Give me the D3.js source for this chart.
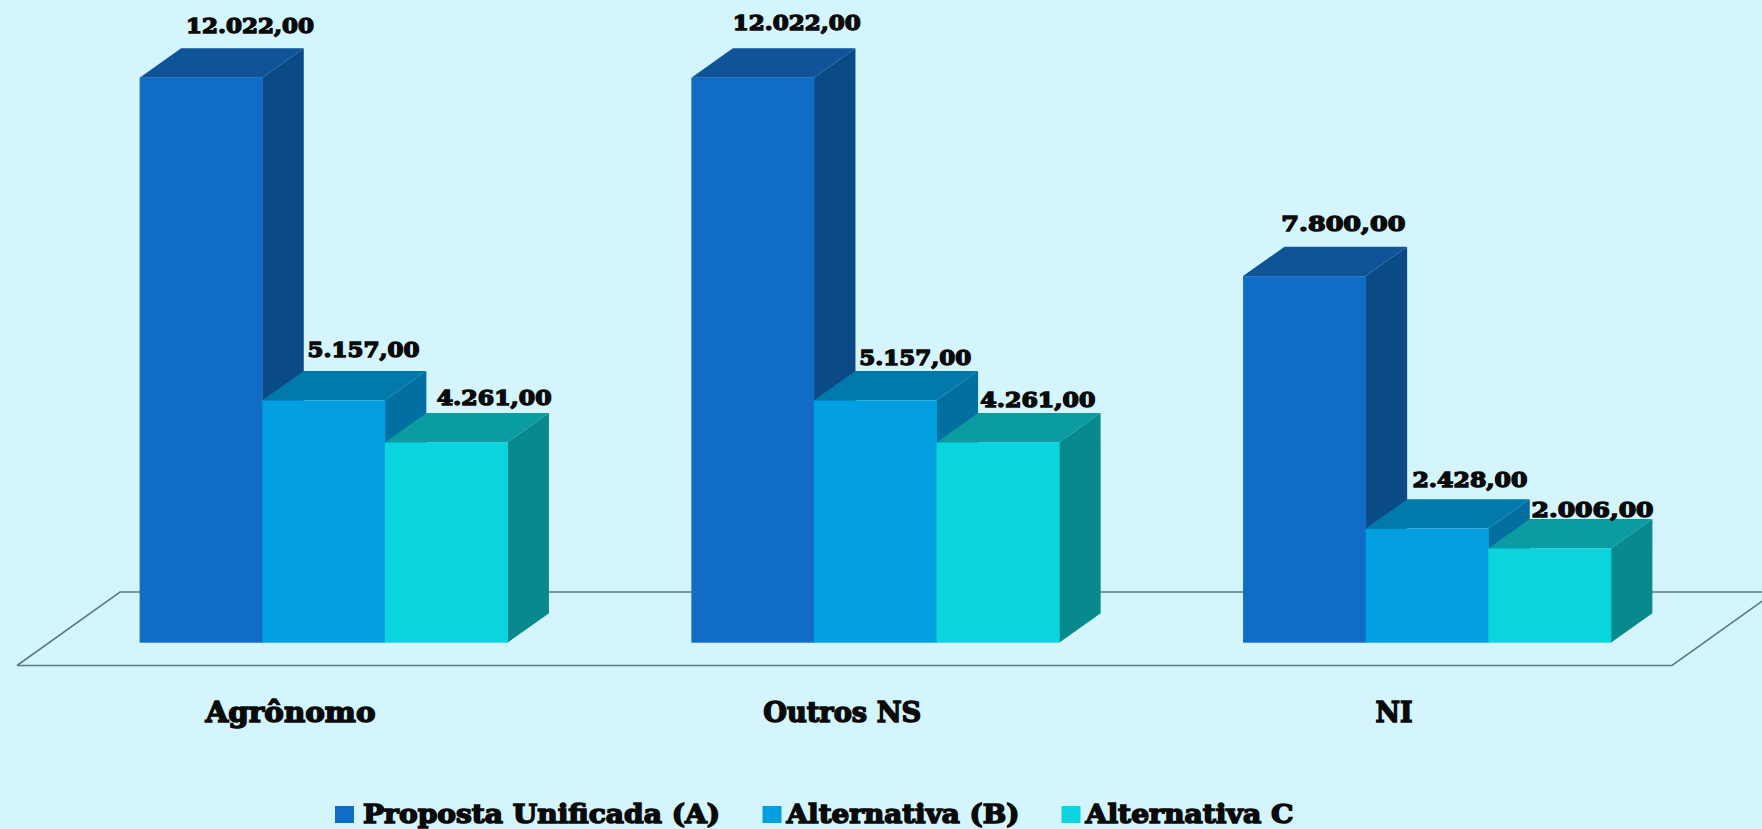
<!DOCTYPE html>
<html>
<head>
<meta charset="utf-8">
<title>Proposta Unificada</title>
<script src="https://cdn.jsdelivr.net/npm/d3@7"></script>
<style>
    html, body { margin: 0; padding: 0; background: #d3f5fb; overflow: hidden; }
    text { font-family: "DejaVu Serif", serif; font-weight: bold; fill: #0a0a0a; stroke: #0a0a0a; }
</style>
</head>
<body>
<div id="chart"></div>
<script>
// the data
const categories = ["Agrônomo", "Outros NS", "NI"];
const seriesNames = ["Proposta Unificada (A)", "Alternativa (B)", "Alternativa C"];
const propostaA = [12022, 12022, 7800];
const alternativaB = [5157, 5157, 2428];
const alternativaC = [4261, 4261, 2006];
const seriesValues = [propostaA, alternativaB, alternativaC];

// colours: front, top and side face of each series
const frontColours = ["#106cc6", "#019fdf", "#0ad5de"];
const topColours = ["#0f5399", "#0179aa", "#0a9ca0"];
const sideColours = ["#0a4a85", "#016f9f", "#07898e"];

// chart settings
const width = 1762;
const height = 829;
const baseline = 642.7;
const barTop = 77.7;
const depth = { x: 41.5, y: 29.4 };
const floorDepth = { x: 103, y: 73.5 };
const floorFrontY = 665.5;

const svg = d3.select("#chart").append("svg")
    .attr("width", width)
    .attr("height", height)
    .style("display", "block");

// scales
const x0 = d3.scaleBand(categories, [47.7, 1702.8])
    .paddingInner(1 / 3)
    .paddingOuter(1 / 6);
const x1 = d3.scaleBand(d3.range(seriesNames.length), [0, x0.bandwidth()]);
const y = d3.scaleLinear([0, 12022], [baseline, barTop]);

// floor of the 3d plot
const floorLeft = 17;
const floorRight = 1672;
svg.append("path")
    .attr("d", d3.line()([
        [floorLeft, floorFrontY],
        [floorRight, floorFrontY],
        [floorRight + floorDepth.x, floorFrontY - floorDepth.y],
        [floorLeft + floorDepth.x, floorFrontY - floorDepth.y],
        [floorLeft, floorFrontY]
    ]))
    .attr("fill", "none")
    .attr("stroke", "#5c7c84")
    .attr("stroke-width", 1.6);

// one flat record per bar, drawn from left to right
const bars = [];
categories.forEach((category, c) => {
    seriesValues.forEach((values, s) => {
        bars.push({ category, c, s, value: values[c] });
    });
});

const line = d3.line();
const barGroups = svg.append("g")
    .selectAll("g")
    .data(bars)
    .join("g");

// back faces first, so the next bar in the row covers them
barGroups.append("path")
    .attr("fill", d => sideColours[d.s])
    .attr("d", d => {
        const r = x0(d.category) + x1(d.s) + x1.bandwidth();
        return line([
            [r, y(d.value)],
            [r + depth.x, y(d.value) - depth.y],
            [r + depth.x, baseline - depth.y],
            [r, baseline]
        ]) + "Z";
    });
barGroups.append("path")
    .attr("fill", d => topColours[d.s])
    .attr("d", d => {
        const l = x0(d.category) + x1(d.s);
        const r = l + x1.bandwidth();
        return line([
            [l, y(d.value)],
            [l + depth.x, y(d.value) - depth.y],
            [r + depth.x, y(d.value) - depth.y],
            [r, y(d.value)]
        ]) + "Z";
    });
barGroups.append("rect")
    .attr("fill", d => frontColours[d.s])
    .attr("x", d => x0(d.category) + x1(d.s))
    .attr("y", d => y(d.value))
    .attr("width", x1.bandwidth() + 0.5)
    .attr("height", d => baseline - y(d.value));

// value labels were placed by hand in the original, so each has its own nudge
const labelShift = [
    [49, 15], [40, 14], [48, 8],
    [44, 18], [40, 6], [40, 6],
    [39, 16], [43, 12], [43, 2]
];
const labelWidths = [128, 112, 115, 128, 112, 115, 124, 115, 122];
const valueFormat = v => d3.format(",")(v).replace(",", ".") + ",00";

svg.append("g")
    .selectAll("text")
    .data(bars)
    .join("text")
    .attr("text-anchor", "middle")
    .attr("x", (d, i) => x0(d.category) + x1(d.s) + x1.bandwidth() / 2 + labelShift[i][0])
    .attr("y", (d, i) => y(d.value) - depth.y - labelShift[i][1])
    .attr("font-size", 21)
    .attr("stroke-width", 1.4)
    .attr("textLength", (d, i) => labelWidths[i])
    .attr("lengthAdjust", "spacingAndGlyphs")
    .text(d => valueFormat(d.value));

// category axis, shifted left because the floor is drawn in perspective
const categoryWidths = [170, 158, 37];
const axis = svg.append("g")
    .attr("transform", `translate(-33, 700)`)
    .call(d3.axisBottom(x0).tickSize(0).tickPadding(0));
axis.select(".domain").remove();
axis.selectAll("text")
    .attr("dy", "22")
    .attr("font-size", 28)
    .attr("stroke-width", 1.5)
    .attr("font-family", "DejaVu Serif")
    .attr("fill", "#0a0a0a")
    .attr("textLength", (d, i) => categoryWidths[i])
    .attr("lengthAdjust", "spacingAndGlyphs");

// legend
const legendX = [335, 762.5, 1061.5];
const legendTextX = [28, 24, 24];
const legendWidths = [357, 233, 208];
const legend = svg.append("g")
    .selectAll("g")
    .data(seriesNames)
    .join("g")
    .attr("transform", (d, i) => `translate(${legendX[i]}, 806)`);
legend.append("rect")
    .attr("width", 19)
    .attr("height", 17)
    .attr("fill", (d, i) => frontColours[i]);
legend.append("text")
    .attr("x", (d, i) => legendTextX[i])
    .attr("y", 17)
    .attr("font-size", 26)
    .attr("stroke-width", 1.5)
    .attr("textLength", (d, i) => legendWidths[i])
    .attr("lengthAdjust", "spacingAndGlyphs")
    .text(d => d);
</script>
</body>
</html>
